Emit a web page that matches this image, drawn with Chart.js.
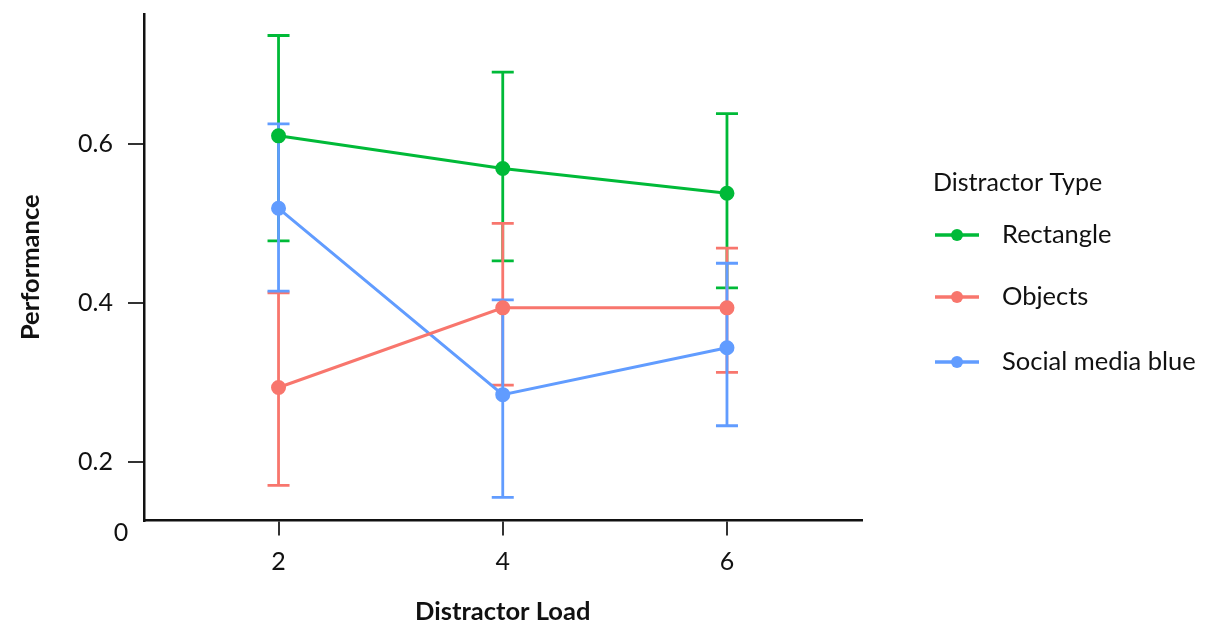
<!DOCTYPE html>
<html><head><meta charset="utf-8">
<script src="https://cdn.jsdelivr.net/npm/chart.js@4/dist/chart.umd.min.js"></script>
<style>html,body{margin:0;padding:0;background:#fff;} #wrap{width:1211px;height:627px;position:relative;}</style>
</head><body><div id="wrap"><canvas id="c"></canvas></div>
<script>
// ---- data ----
const distractorLoad = [2, 4, 6];
const seriesNames = ['Rectangle', 'Objects', 'Social media blue'];
const rectangleMean  = [0.610, 0.569, 0.538];
const rectangleLower = [0.478, 0.453, 0.419];
const rectangleUpper = [0.736, 0.690, 0.638];
const objectsMean  = [0.294, 0.394, 0.394];
const objectsLower = [0.171, 0.297, 0.313];
const objectsUpper = [0.413, 0.500, 0.469];
const socialMean  = [0.519, 0.285, 0.344];
const socialLower = [0.415, 0.156, 0.246];
const socialUpper = [0.625, 0.404, 0.450];
const yTickValues = [0.2, 0.4, 0.6];
const xTickValues = [2, 4, 6];
const yBaseLabel = '0';
const legendTitle = 'Distractor Type';
const xTitle = 'Distractor Load';
const yTitle = 'Performance';

const colors = ['#00BA38', '#F8766D', '#619CFF'];
const FONT = 'Lato';

function pts(means) { return distractorLoad.map((x, i) => ({x: x, y: means[i]})); }

const means = [rectangleMean, objectsMean, socialMean];
const lowers = [rectangleLower, objectsLower, socialLower];
const uppers = [rectangleUpper, objectsUpper, socialUpper];

const datasets = seriesNames.map((name, i) => ({
  label: name,
  data: pts(means[i]),
  errLow: lowers[i],
  errHigh: uppers[i],
  borderColor: colors[i],
  backgroundColor: colors[i],
  pointBackgroundColor: colors[i],
  pointBorderColor: colors[i],
  pointRadius: 6,
  pointHoverRadius: 6,
  borderWidth: 3,
  showLine: true,
  tension: 0,
  clip: false
}));

const errorBarPlugin = {
  id: 'errorBars',
  beforeDatasetsDraw(chart) {
    const {ctx, scales: {x, y}} = chart;
    chart.data.datasets.forEach((ds) => {
      ctx.save();
      ctx.strokeStyle = ds.borderColor;
      ctx.lineWidth = 2.8;
      ds.data.forEach((p, j) => {
        const px = x.getPixelForValue(p.x);
        const lo = y.getPixelForValue(ds.errLow[j]);
        const hi = y.getPixelForValue(ds.errHigh[j]);
        ctx.beginPath();
        ctx.moveTo(px, lo); ctx.lineTo(px, hi);
        ctx.moveTo(px - 11, lo); ctx.lineTo(px + 11, lo);
        ctx.moveTo(px - 11, hi); ctx.lineTo(px + 11, hi);
        ctx.stroke();
      });
      ctx.restore();
    });
  }
};

const extrasPlugin = {
  id: 'extras',
  afterDraw(chart) {
    const {ctx, chartArea} = chart;
    ctx.save();
    // "0" label at the axis corner
    ctx.fillStyle = '#111';
    ctx.font = '25px ' + FONT;
    ctx.textAlign = 'center';
    ctx.textBaseline = 'middle';
    ctx.fillText(yBaseLabel, chartArea.left - 23, chartArea.bottom + 12);
    // legend
    ctx.textAlign = 'left';
    ctx.font = '25px ' + FONT;
    ctx.fillText(legendTitle, 933, 183);
    const itemY = [235, 297, 362];
    ctx.font = '25.5px ' + FONT;
    chart.data.datasets.forEach((ds, i) => {
      const cy = itemY[i];
      ctx.strokeStyle = ds.borderColor;
      ctx.fillStyle = ds.borderColor;
      ctx.lineWidth = 3.5;
      ctx.beginPath(); ctx.moveTo(935, cy); ctx.lineTo(979, cy); ctx.stroke();
      ctx.beginPath(); ctx.arc(957, cy, 6, 0, Math.PI * 2); ctx.fill();
      ctx.fillStyle = '#111';
      ctx.fillText(ds.label, 1002, cy);
    });
    ctx.restore();
  }
};

new Chart(document.getElementById('c'), {
  type: 'scatter',
  data: { datasets },
  plugins: [errorBarPlugin, extrasPlugin],
  options: {
    responsive: true,
    maintainAspectRatio: false,
    animation: false,
    events: [],
    layout: { padding: { top: 14, right: 349.5, left: 0, bottom: 0 } },
    plugins: { legend: { display: false }, tooltip: { enabled: false } },
    scales: {
      x: {
        type: 'linear',
        min: 0.8, max: 7.2,
        afterBuildTicks(s) { s.ticks = xTickValues.map(v => ({value: v})); },
        afterFit(s) { s.height = 106.5; s.paddingLeft = 0; s.paddingRight = 0; },
        border: { display: true, color: '#111', width: 2.5 },
        grid: { drawOnChartArea: false, drawTicks: true, tickLength: 15, color: '#333', lineWidth: 2 },
        ticks: { color: '#111', font: { family: FONT, size: 25 }, padding: 11, callback: v => String(v) },
        title: { display: true, text: xTitle, color: '#111', font: { family: FONT, size: 25.5, weight: 'bold' }, padding: { top: 0, bottom: 0 } }
      },
      y: {
        type: 'linear',
        min: 0.127, max: 0.763,
        afterBuildTicks(s) { s.ticks = yTickValues.map(v => ({value: v})); },
        afterFit(s) { s.width = 144; s.paddingTop = 0; s.paddingBottom = 0; },
        border: { display: true, color: '#111', width: 2.5 },
        grid: { drawOnChartArea: false, drawTicks: true, tickLength: 16, color: '#333', lineWidth: 2 },
        ticks: { color: '#111', font: { family: FONT, size: 25 }, padding: 15, callback: v => v.toFixed(1) },
        title: { display: true, text: yTitle, color: '#111', font: { family: FONT, size: 25.5, weight: 'bold' }, padding: { top: 15, bottom: 0 } }
      }
    }
  }
});
</script>
</body></html>
